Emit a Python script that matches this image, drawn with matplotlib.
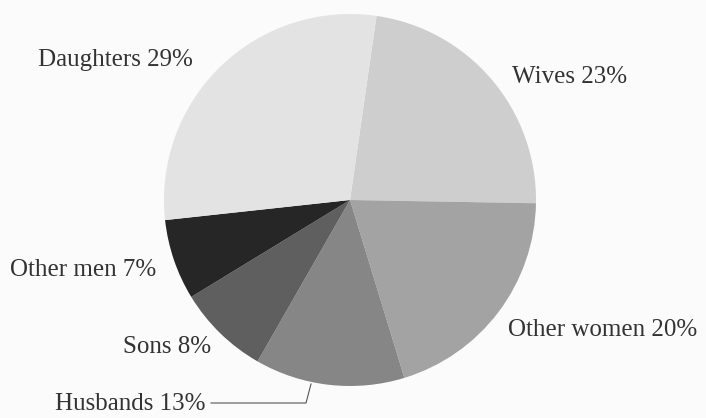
import matplotlib
matplotlib.use("Agg")
import matplotlib.pyplot as plt

# data, clockwise from the top
labels = ["Wives", "Other women", "Husbands", "Sons", "Other men", "Daughters"]
shares = [23, 20, 13, 8, 7, 29]
colors = ["#cecece", "#a3a3a3", "#868686", "#5f5f5f", "#262626", "#e3e3e3"]

W, H = 706, 418
fig = plt.figure(figsize=(W / 100, H / 100), dpi=100)
fig.patch.set_facecolor("#fbfbfb")
ax = fig.add_axes([0, 0, 1, 1])

cx, cy, r = 350, H - 200, 186
ax.pie(shares, colors=colors, startangle=81.8, counterclock=False,
       center=(cx, cy), radius=r, frame=True,
       wedgeprops=dict(linewidth=0))
ax.set_xlim(0, W)
ax.set_ylim(0, H)
ax.set_aspect("equal")
ax.axis("off")

# label positions (left edge, vertical centre), in image pixels
label_pos = {
    "Wives": (512, 77),
    "Other women": (508, 330),
    "Husbands": (55, 404),
    "Sons": (123, 347),
    "Other men": (10, 270),
    "Daughters": (38, 60),
}
for lab, val in zip(labels, shares):
    x, y = label_pos[lab]
    ax.text(x, H - y, f"{lab} {val}%", ha="left", va="center",
            fontsize=18, family="Liberation Serif", color="#333333")

# leader line for Husbands
ax.plot([211, 306, 311], [H - 403, H - 403, H - 384], color="#555555", lw=0.8)

fig.savefig("out.png", dpi=100, facecolor=fig.get_facecolor())
